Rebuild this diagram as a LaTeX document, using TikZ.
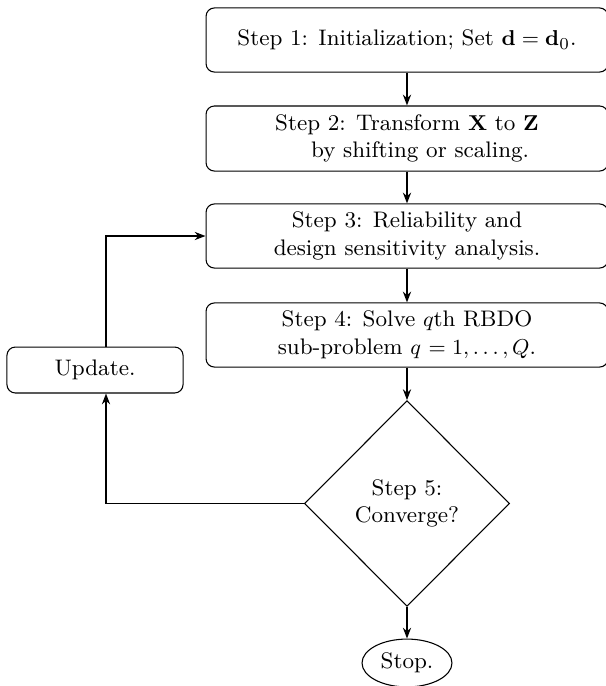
\documentclass[tikz,border=0pt]{standalone}
\usetikzlibrary{shapes.geometric,arrows.meta}
\begin{document}
\begin{tikzpicture}[x=0.418pt,y=-0.418pt,
  every node/.style={font=\fontsize{9.4pt}{11.6pt}\selectfont},
  stepbox/.style={draw, rounded corners=3.5pt, line width=0.45pt,
    minimum width=168pt, minimum height=26.8pt, align=center, inner sep=0pt},
  conn/.style={line width=0.8pt, -{Stealth[length=4.5pt,width=3.4pt]}}]
\useasboundingbox (0,0) rectangle (606,686);
\node[stepbox] (s1) at (407,40) {Step 1: Initialization; Set $\mathbf{d}=\mathbf{d}_0$.};
\node[stepbox, minimum height=27.2pt] (s2) at (407,138.5)
  {Step 2: Transform $\mathbf{X}$ to $\mathbf{Z}$\\\hspace*{11pt}by shifting or scaling.};
\node[stepbox] (s3) at (407,236) {Step 3: Reliability and\\design sensitivity analysis.};
\node[stepbox] (s4) at (407,335) {Step 4: Solve $q$th RBDO\\sub-problem $q$ $=1,\ldots,Q$.};
\node[draw, diamond, aspect=1, minimum width=85.7pt, minimum height=86pt,
  inner sep=0pt, align=center, line width=0.45pt] (s5) at (407,503.5) {Step 5:\\Converge?};
\node[draw, ellipse, minimum width=37.6pt, minimum height=20pt, inner sep=0pt,
  line width=0.45pt] (stop) at (407,663) {Stop.};
\node[stepbox, minimum width=73.6pt, minimum height=19.2pt] (upd) at (95,370) {Update.};
\coordinate (lx) at (106,0);
\draw[conn] (s1.south) -- (s2.north);
\draw[conn] (s2.south) -- (s3.north);
\draw[conn] (s3.south) -- (s4.north);
\draw[conn] (s4.south) -- (s5.north);
\draw[conn] (s5.south) -- (stop.north);
\draw[conn] (s5.west) -- (s5.west -| lx) -- (upd.south -| lx);
\draw[conn] (upd.north -| lx) |- (s3.west);
\end{tikzpicture}
\end{document}
